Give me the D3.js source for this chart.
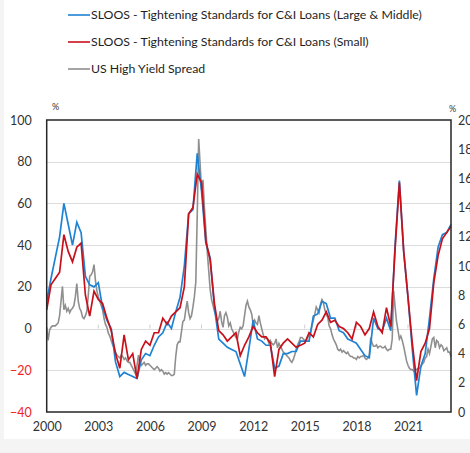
<!DOCTYPE html>
<html>
<head>
<meta charset="utf-8">
<script src="https://cdn.jsdelivr.net/npm/d3@7"></script>
<style>
  html, body { margin: 0; padding: 0; background: #f4f4f4; overflow: hidden; }
  #chart { position: absolute; left: 4px; top: 0; }
  text { font-family: Lato, "Liberation Sans", sans-serif; }
</style>
</head>
<body>
<div id="chart"></div>
<script>
// quarterly survey readings, Jan 2000 .. Jul 2023 (net % tightening)
var largeMid = [13, 24, 34, 44, 60, 50, 40, 51, 46, 25, 21, 20, 22, 10, 4, 0,
  -16, -23, -21, -22, -23, -24, -15, -12, -13, -8, -4, -2, 3, 0, 8, 15,
  30, 55, 57, 84, 66, 41, 34, 10, -5, -7, -9, -10, -11, -17, -23, -10,
  4, -5, -6, -8, -8, -19, -18, -12, -12, -11, -11, -6, -6, -6, 6, 7,
  13, 12, 5, 5, -1, -2, -5, -6, -7, -10, -13, -14, 5, 0, -1, 5,
  -1, 40, 71, 37, 15, -10, -32, -18, -12, 5, 24, 39, 45, 46, 50];
var small = [9, 21, 24, 27, 45, 37, 32, 39, 41, 16, 6, 18, 14, 12, 5, -1,
  -12, -19, -3, -15, -12, -24, -10, -6, -8, -2, -2, 5, 2, 6, 8, 10,
  20, 55, 58, 74, 70, 42, 33, 12, -1, -3, -6, -4, -2, -13, -8, -4,
  1, -2, -4, -4, -7, -23, -10, -7, -5, -7, -9, -8, -7, -2, -4, 2,
  4, 8, 3, 4, 1, 0, -2, -5, 3, 1, -3, 0, 8, 1, -2, 10,
  1, 38, 70, 37, 15, -7, -25, -11, -7, 0, 22, 35, 43, 46, 49];
// monthly high yield spread, Jan 2000 .. Jul 2023 (%)
var hySpread = [
  5.8, 4.9, 5.6, 5.8, 5.9, 5.9, 5.9, 6.0, 6.1, 6.6, 7.6, 8.6,
  7.0, 7.3, 6.9, 7.1, 6.8, 7.0, 7.1, 7.3, 7.9, 8.8, 7.6, 7.1,
  6.9, 6.5, 6.4, 6.6, 6.9, 8.0, 9.3, 9.4, 9.6, 10.1, 9.0, 8.3,
  7.9, 7.6, 7.3, 7.0, 6.4, 6.0, 5.8, 5.4, 5.2, 4.9, 4.6, 4.4,
  4.1, 3.9, 3.8, 3.7, 3.9, 3.8, 3.6, 3.7, 3.5, 3.4, 3.4, 3.2,
  3.0, 2.8, 2.6, 3.2, 3.9, 3.4, 3.2, 3.3, 3.4, 3.2, 3.3, 3.3,
  3.2, 3.1, 3.0, 2.9, 3.0, 3.1, 3.0, 2.8, 2.9, 2.8, 2.6, 2.7,
  2.6, 2.7, 2.6, 2.5, 2.5, 2.6, 3.8, 4.6, 4.8, 4.8, 5.5, 6.2,
  6.3, 7.0, 7.6, 6.8, 6.4, 6.6, 7.2, 7.9, 8.9, 13.5, 18.7, 17.0,
  15.2, 15.9, 14.0, 12.5, 11.0, 9.7, 8.4, 7.7, 7.3, 6.9, 6.6, 6.2,
  6.4, 6.9, 6.2, 5.8, 6.6, 6.8, 6.5, 5.9, 6.1, 5.7, 5.5, 5.3,
  5.1, 5.0, 5.5, 5.8, 5.7, 5.9, 6.6, 7.3, 7.6, 7.2, 7.0, 6.7,
  6.0, 6.3, 6.1, 6.0, 6.6, 6.1, 5.7, 5.3, 5.0, 5.1, 5.0, 4.7,
  4.9, 4.7, 4.6, 4.7, 5.0, 4.4, 4.7, 4.5, 4.3, 4.1, 4.0, 3.9,
  3.8, 3.7, 3.5, 3.4, 3.6, 3.9, 4.3, 4.6, 4.8, 5.1, 5.1, 5.0,
  4.9, 4.9, 5.1, 5.2, 5.4, 5.9, 6.3, 6.7, 7.2, 7.0, 6.8, 7.4,
  7.7, 7.5, 7.0, 6.7, 6.5, 5.9, 5.7, 5.3, 5.0, 4.8, 4.6, 4.3,
  4.2, 4.3, 4.1, 4.2, 4.1, 4.0, 4.1, 3.9, 3.8, 3.8, 3.7, 3.7,
  3.6, 3.8, 3.7, 3.8, 3.8, 3.9, 3.7, 3.6, 3.7, 3.9, 5.1, 4.7,
  4.5, 4.5, 4.6, 4.4, 4.5, 4.5, 4.4, 4.4, 4.5, 4.3, 4.2, 4.3,
  4.3, 5.0, 8.3, 7.2, 6.2, 5.6, 5.0, 5.2, 4.9, 4.5, 4.0, 3.5,
  3.2, 3.0, 2.9, 2.9, 2.8, 2.9, 2.9, 3.0, 3.0, 3.1, 3.3, 3.4,
  3.7, 3.8, 4.3, 4.0, 4.5, 5.0, 5.1, 4.4, 4.9, 4.8, 4.4, 4.6,
  4.5, 4.2, 4.3, 4.4, 4.1, 4.1, 3.8];

var yearTicks = [2000, 2003, 2006, 2009, 2012, 2015, 2018, 2021];
var leftTicks = [-40, -20, 0, 20, 40, 60, 80, 100];
var rightTicks = [0, 2, 4, 6, 8, 10, 12, 14, 16, 18, 20];
var seriesNames = ["SLOOS - Tightening Standards for C&I Loans (Large & Middle)",
  "SLOOS - Tightening Standards for C&I Loans (Small)",
  "US High Yield Spread"];
var seriesColors = ["#1f83d4", "#c8101a", "#8f8f8f"];

var margin = {left: 42.7, right: 447, top: 120, bottom: 412};

var svg = d3.select("#chart")
    .append("svg")
    .attr("width", 500)
    .attr("height", 439)
    .style("background", "#fff");

var x = d3.scaleLinear().domain([2000, 2023.5]).range([margin.left, margin.right]);
var yL = d3.scaleLinear().domain([-40, 100]).range([margin.bottom, margin.top]);
var yR = d3.scaleLinear().domain([0, 20]).range([margin.bottom, margin.top]);

// gridlines
svg.append("g")
    .selectAll("line")
    .data(leftTicks.filter(function(d) { return d > -40 && d < 100; }))
    .enter()
    .append("line")
    .attr("x1", margin.left)
    .attr("x2", margin.right)
    .attr("y1", function(d) { return Math.round(yL(d)) + 0.5; })
    .attr("y2", function(d) { return Math.round(yL(d)) + 0.5; })
    .attr("stroke", "#dcdcdc")
    .attr("stroke-width", 1);

// small year ticks sitting on the zero line
svg.append("g")
    .selectAll("line")
    .data(yearTicks.slice(1))
    .enter()
    .append("line")
    .attr("x1", function(d) { return x(d); })
    .attr("x2", function(d) { return x(d); })
    .attr("y1", yL(0) - 4)
    .attr("y2", yL(0))
    .attr("stroke", "#cfcfcf");

// left axis
var left = svg.append("g")
    .attr("transform", "translate(" + (margin.left - 15) + ",0)")
    .call(d3.axisLeft(yL).tickValues(leftTicks).tickSize(0).tickPadding(0));
left.select(".domain").remove();
left.selectAll("text")
    .attr("font-size", 12.5)
    .attr("font-family", "Lato, sans-serif")
    .attr("fill", function(d) { return d < 0 ? "#f01e1e" : "#333"; });

// right axis
var right = svg.append("g")
    .attr("transform", "translate(" + (margin.right + 7) + ",0)")
    .call(d3.axisRight(yR).tickValues(rightTicks).tickSize(0).tickPadding(0));
right.select(".domain").remove();
right.selectAll("text")
    .attr("font-size", 12.5)
    .attr("font-family", "Lato, sans-serif")
    .attr("fill", "#333");

// bottom axis
var bottom = svg.append("g")
    .attr("transform", "translate(0," + (margin.bottom + 10) + ")")
    .call(d3.axisBottom(x).tickValues(yearTicks).tickFormat(d3.format("d")).tickSize(0).tickPadding(0));
bottom.select(".domain").remove();
bottom.selectAll("text")
    .attr("font-size", 12.5)
    .attr("font-family", "Lato, sans-serif")
    .attr("fill", "#333");

svg.append("text").attr("x", 48).attr("y", 110).attr("font-size", 9).attr("fill", "#333").text("%");
svg.append("text").attr("x", 445).attr("y", 112).attr("font-size", 9).attr("fill", "#333").text("%");

// series
var qLine = d3.line()
    .x(function(d, i) { return x(2000 + i / 4); })
    .y(function(d) { return yL(d); });
var mLine = d3.line()
    .x(function(d, i) { return x(2000 + i / 12); })
    .y(function(d) { return yR(d); });

svg.append("path").datum(hySpread)
    .attr("d", mLine).attr("fill", "none")
    .attr("stroke", seriesColors[2]).attr("stroke-width", 1.6);
svg.append("path").datum(largeMid)
    .attr("d", qLine).attr("fill", "none")
    .attr("stroke", seriesColors[0]).attr("stroke-width", 1.7);
svg.append("path").datum(small)
    .attr("d", qLine).attr("fill", "none")
    .attr("stroke", seriesColors[1]).attr("stroke-width", 1.7);

// frame
svg.append("rect")
    .attr("x", margin.left)
    .attr("y", margin.top)
    .attr("width", margin.right - margin.left)
    .attr("height", margin.bottom - margin.top)
    .attr("fill", "none")
    .attr("stroke", "#262626")
    .attr("stroke-width", 1.5);

// legend
var legend = svg.selectAll(".legend")
    .data(seriesNames)
    .enter()
    .append("g")
    .attr("transform", function(d, i) { return "translate(64," + (15 + 27 * i) + ")"; });
legend.append("line")
    .attr("x1", 0).attr("x2", 22)
    .attr("stroke", function(d, i) { return seriesColors[i]; })
    .attr("stroke-width", 1.6);
legend.append("text")
    .attr("x", 23)
    .attr("dy", "0.35em")
    .attr("font-size", 12.3)
    .attr("fill", "#1e1e1e")
    .text(function(d) { return d; });
</script>
</body>
</html>
